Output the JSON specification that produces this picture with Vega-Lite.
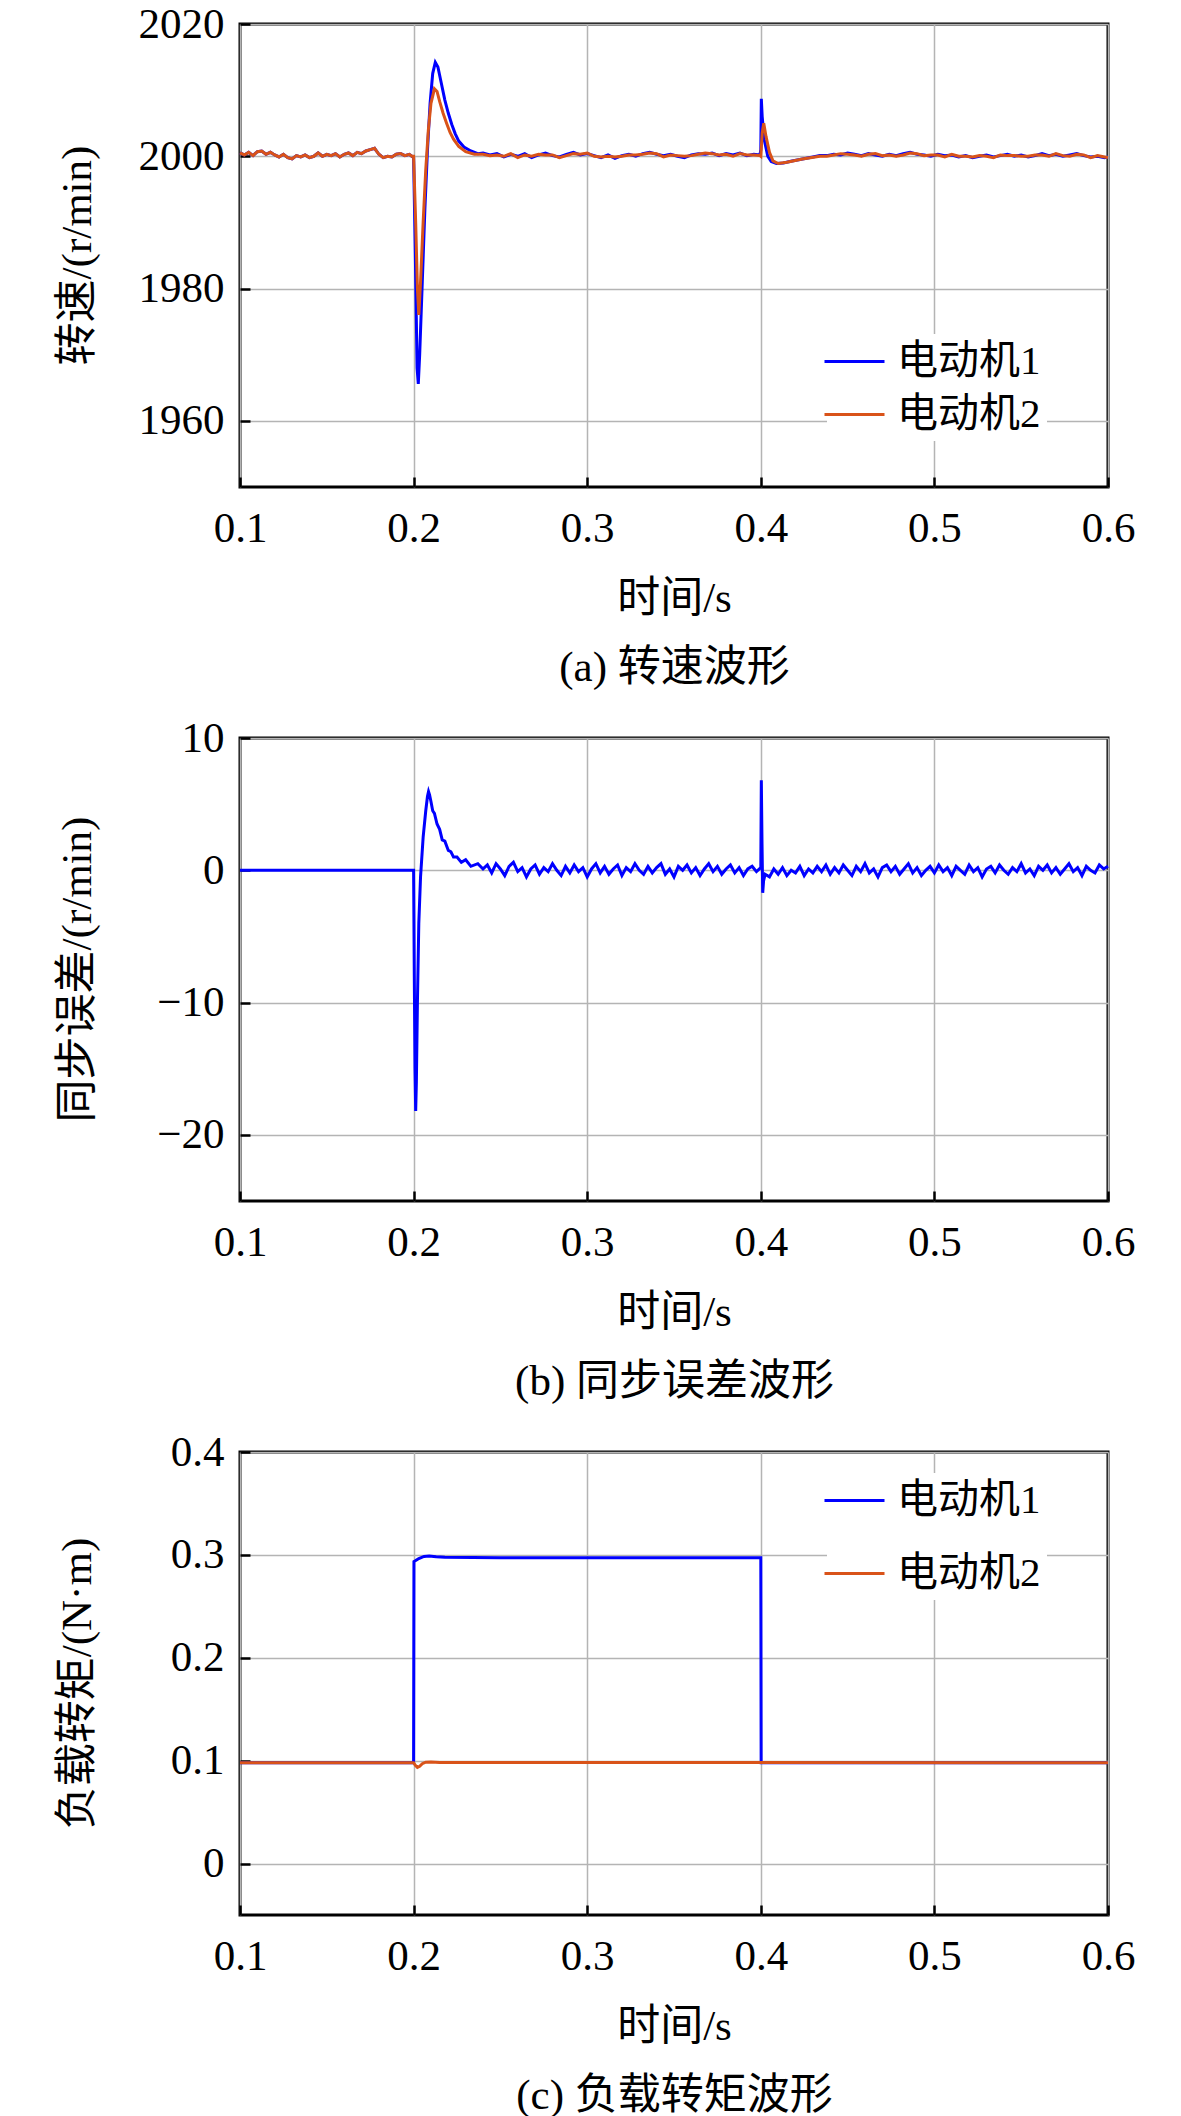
{
  "$schema": "https://vega.github.io/schema/vega-lite/v6.json",
  "padding": {"left": 54, "top": 1, "right": 10, "bottom": 2},
  "spacing": 24,
  "resolve": {"scale": {"color": "independent"}, "legend": {"color": "independent"}},
  "config": {
    "font": "Liberation Serif, Noto Sans CJK SC",
    "view": {"stroke": "black", "strokeWidth": 3},
    "axis": {
      "domain": false,
      "grid": true,
      "gridColor": "#b4b4b4",
      "gridWidth": 1.5,
      "gridOpacity": 1,
      "tickColor": "black",
      "tickWidth": 2.5,
      "tickSize": -10,
      "labelFontSize": 43,
      "labelColor": "black",
      "labelFlush": false,
      "labelOverlap": false,
      "titleFontSize": 43,
      "titleFontWeight": "normal",
      "titleColor": "black"
    },
    "axisX": {"labelPadding": 30, "titlePadding": 27, "titleLineHeight": 69},
    "axisY": {"labelPadding": 26, "titleX": -163, "titleY": 231, "titleAngle": 270, "titleBaseline": "middle", "titleAlign": "center"},
    "legend": {
      "orient": "none",
      "fillColor": "white",
      "padding": 6,
      "symbolType": "M-1.5,0H1.5",
      "symbolSize": 1600,
      "symbolStrokeWidth": 3,
      "labelFontSize": 41,
      "labelColor": "black",
      "labelOffset": 21,
      "labelLimit": 0
    }
  },
  "datasets": {
    "speed": [
      {"t":0.1,"m":"电动机1","v":2000.5},{"t":0.1025,"m":"电动机1","v":2000.2},{"t":0.105,"m":"电动机1","v":2000.6},{"t":0.1075,"m":"电动机1","v":2000.1},
      {"t":0.11,"m":"电动机1","v":2000.7},{"t":0.1125,"m":"电动机1","v":2000.8},{"t":0.115,"m":"电动机1","v":2000.3},{"t":0.1175,"m":"电动机1","v":2000.6},
      {"t":0.12,"m":"电动机1","v":2000.2},{"t":0.1225,"m":"电动机1","v":1999.9},{"t":0.125,"m":"电动机1","v":2000.3},{"t":0.1275,"m":"电动机1","v":1999.8},
      {"t":0.13,"m":"电动机1","v":1999.6},{"t":0.1325,"m":"电动机1","v":2000.1},{"t":0.135,"m":"电动机1","v":1999.9},{"t":0.1375,"m":"电动机1","v":2000.2},
      {"t":0.14,"m":"电动机1","v":1999.8},{"t":0.1425,"m":"电动机1","v":2000.0},{"t":0.145,"m":"电动机1","v":2000.5},{"t":0.1475,"m":"电动机1","v":2000.0},
      {"t":0.15,"m":"电动机1","v":2000.3},{"t":0.1525,"m":"电动机1","v":2000.1},{"t":0.155,"m":"电动机1","v":2000.4},{"t":0.1575,"m":"电动机1","v":1999.9},
      {"t":0.16,"m":"电动机1","v":2000.3},{"t":0.1625,"m":"电动机1","v":2000.5},{"t":0.165,"m":"电动机1","v":2000.1},{"t":0.1675,"m":"电动机1","v":2000.6},
      {"t":0.17,"m":"电动机1","v":2000.4},{"t":0.1725,"m":"电动机1","v":2000.8},{"t":0.175,"m":"电动机1","v":2001.0},{"t":0.1775,"m":"电动机1","v":2001.2},
      {"t":0.18,"m":"电动机1","v":2000.3},{"t":0.1825,"m":"电动机1","v":1999.8},{"t":0.185,"m":"电动机1","v":2000.0},{"t":0.1875,"m":"电动机1","v":1999.9},
      {"t":0.19,"m":"电动机1","v":2000.3},{"t":0.1925,"m":"电动机1","v":2000.4},{"t":0.195,"m":"电动机1","v":2000.1},{"t":0.1975,"m":"电动机1","v":2000.3},
      {"t":0.199,"m":"电动机1","v":2000.0},
      {"t":0.2,"m":"电动机1","v":1999.8},{"t":0.201,"m":"电动机1","v":1985},{"t":0.202,"m":"电动机1","v":1968},{"t":0.2027,"m":"电动机1","v":1965.6},
      {"t":0.2035,"m":"电动机1","v":1970},{"t":0.205,"m":"电动机1","v":1981},{"t":0.2065,"m":"电动机1","v":1992},{"t":0.208,"m":"电动机1","v":2001},
      {"t":0.2095,"m":"电动机1","v":2008},{"t":0.211,"m":"电动机1","v":2012.5},{"t":0.2125,"m":"电动机1","v":2014.2},{"t":0.214,"m":"电动机1","v":2013.5},
      {"t":0.216,"m":"电动机1","v":2011},{"t":0.218,"m":"电动机1","v":2008.5},{"t":0.22,"m":"电动机1","v":2006.5},{"t":0.222,"m":"电动机1","v":2004.8},
      {"t":0.224,"m":"电动机1","v":2003.4},{"t":0.226,"m":"电动机1","v":2002.3},{"t":0.229,"m":"电动机1","v":2001.4},{"t":0.233,"m":"电动机1","v":2000.8},
      {"t":0.237,"m":"电动机1","v":2000.4},
      {"t":0.24,"m":"电动机1","v":2000.5},{"t":0.244,"m":"电动机1","v":2000.2},{"t":0.248,"m":"电动机1","v":2000.4},{"t":0.252,"m":"电动机1","v":1999.9},
      {"t":0.256,"m":"电动机1","v":2000.3},{"t":0.26,"m":"电动机1","v":2000.0},{"t":0.264,"m":"电动机1","v":2000.4},{"t":0.268,"m":"电动机1","v":1999.8},
      {"t":0.272,"m":"电动机1","v":2000.2},{"t":0.276,"m":"电动机1","v":2000.5},{"t":0.28,"m":"电动机1","v":2000.1},{"t":0.284,"m":"电动机1","v":1999.9},
      {"t":0.288,"m":"电动机1","v":2000.3},{"t":0.292,"m":"电动机1","v":2000.6},{"t":0.296,"m":"电动机1","v":2000.2},{"t":0.3,"m":"电动机1","v":2000.4},
      {"t":0.304,"m":"电动机1","v":2000.1},{"t":0.308,"m":"电动机1","v":1999.8},{"t":0.312,"m":"电动机1","v":2000.2},{"t":0.316,"m":"电动机1","v":1999.7},
      {"t":0.32,"m":"电动机1","v":2000.1},{"t":0.324,"m":"电动机1","v":2000.3},{"t":0.328,"m":"电动机1","v":2000.0},{"t":0.332,"m":"电动机1","v":2000.4},
      {"t":0.336,"m":"电动机1","v":2000.6},{"t":0.34,"m":"电动机1","v":2000.3},{"t":0.344,"m":"电动机1","v":2000.1},{"t":0.348,"m":"电动机1","v":2000.3},
      {"t":0.352,"m":"电动机1","v":2000.0},{"t":0.356,"m":"电动机1","v":1999.8},{"t":0.36,"m":"电动机1","v":2000.2},{"t":0.364,"m":"电动机1","v":2000.4},
      {"t":0.368,"m":"电动机1","v":2000.3},{"t":0.372,"m":"电动机1","v":2000.5},{"t":0.376,"m":"电动机1","v":2000.1},{"t":0.38,"m":"电动机1","v":2000.4},
      {"t":0.384,"m":"电动机1","v":2000.2},{"t":0.388,"m":"电动机1","v":2000.5},{"t":0.392,"m":"电动机1","v":2000.1},{"t":0.396,"m":"电动机1","v":2000.3},
      {"t":0.3995,"m":"电动机1","v":2000.2},
      {"t":0.4,"m":"电动机1","v":2001},{"t":0.4003,"m":"电动机1","v":2008.7},{"t":0.4008,"m":"电动机1","v":2006},{"t":0.402,"m":"电动机1","v":2002.5},
      {"t":0.404,"m":"电动机1","v":2000},{"t":0.406,"m":"电动机1","v":1999.2},{"t":0.409,"m":"电动机1","v":1998.9},{"t":0.413,"m":"电动机1","v":1999},
      {"t":0.418,"m":"电动机1","v":1999.3},{"t":0.424,"m":"电动机1","v":1999.6},{"t":0.43,"m":"电动机1","v":1999.9},{"t":0.434,"m":"电动机1","v":2000.1},
      {"t":0.438,"m":"电动机1","v":2000.1},{"t":0.442,"m":"电动机1","v":2000.3},{"t":0.446,"m":"电动机1","v":2000.2},{"t":0.45,"m":"电动机1","v":2000.5},
      {"t":0.454,"m":"电动机1","v":2000.3},{"t":0.458,"m":"电动机1","v":2000.1},{"t":0.462,"m":"电动机1","v":2000.4},{"t":0.466,"m":"电动机1","v":2000.2},
      {"t":0.47,"m":"电动机1","v":2000.0},{"t":0.474,"m":"电动机1","v":2000.3},{"t":0.478,"m":"电动机1","v":2000.1},{"t":0.482,"m":"电动机1","v":2000.4},
      {"t":0.486,"m":"电动机1","v":2000.6},{"t":0.49,"m":"电动机1","v":2000.3},{"t":0.494,"m":"电动机1","v":2000.2},{"t":0.498,"m":"电动机1","v":2000.0},
      {"t":0.502,"m":"电动机1","v":2000.3},{"t":0.506,"m":"电动机1","v":2000.1},{"t":0.51,"m":"电动机1","v":2000.2},{"t":0.514,"m":"电动机1","v":1999.9},
      {"t":0.518,"m":"电动机1","v":2000.1},{"t":0.522,"m":"电动机1","v":1999.8},{"t":0.526,"m":"电动机1","v":2000.0},{"t":0.53,"m":"电动机1","v":2000.2},
      {"t":0.534,"m":"电动机1","v":1999.9},{"t":0.538,"m":"电动机1","v":2000.1},{"t":0.542,"m":"电动机1","v":2000.3},{"t":0.546,"m":"电动机1","v":2000.0},
      {"t":0.55,"m":"电动机1","v":2000.2},{"t":0.554,"m":"电动机1","v":1999.9},{"t":0.558,"m":"电动机1","v":2000.1},{"t":0.562,"m":"电动机1","v":2000.4},
      {"t":0.566,"m":"电动机1","v":2000.1},{"t":0.57,"m":"电动机1","v":2000.3},{"t":0.574,"m":"电动机1","v":2000.0},{"t":0.578,"m":"电动机1","v":2000.2},
      {"t":0.582,"m":"电动机1","v":2000.4},{"t":0.586,"m":"电动机1","v":2000.1},{"t":0.59,"m":"电动机1","v":1999.9},{"t":0.594,"m":"电动机1","v":2000.0},
      {"t":0.598,"m":"电动机1","v":1999.8},{"t":0.6,"m":"电动机1","v":1999.9},

      {"t":0.1,"m":"电动机2","v":2000.5},{"t":0.1025,"m":"电动机2","v":2000.2},{"t":0.105,"m":"电动机2","v":2000.6},{"t":0.1075,"m":"电动机2","v":2000.1},
      {"t":0.11,"m":"电动机2","v":2000.7},{"t":0.1125,"m":"电动机2","v":2000.8},{"t":0.115,"m":"电动机2","v":2000.3},{"t":0.1175,"m":"电动机2","v":2000.6},
      {"t":0.12,"m":"电动机2","v":2000.2},{"t":0.1225,"m":"电动机2","v":1999.9},{"t":0.125,"m":"电动机2","v":2000.3},{"t":0.1275,"m":"电动机2","v":1999.8},
      {"t":0.13,"m":"电动机2","v":1999.6},{"t":0.1325,"m":"电动机2","v":2000.1},{"t":0.135,"m":"电动机2","v":1999.9},{"t":0.1375,"m":"电动机2","v":2000.2},
      {"t":0.14,"m":"电动机2","v":1999.8},{"t":0.1425,"m":"电动机2","v":2000.0},{"t":0.145,"m":"电动机2","v":2000.5},{"t":0.1475,"m":"电动机2","v":2000.0},
      {"t":0.15,"m":"电动机2","v":2000.3},{"t":0.1525,"m":"电动机2","v":2000.1},{"t":0.155,"m":"电动机2","v":2000.4},{"t":0.1575,"m":"电动机2","v":1999.9},
      {"t":0.16,"m":"电动机2","v":2000.3},{"t":0.1625,"m":"电动机2","v":2000.5},{"t":0.165,"m":"电动机2","v":2000.1},{"t":0.1675,"m":"电动机2","v":2000.6},
      {"t":0.17,"m":"电动机2","v":2000.4},{"t":0.1725,"m":"电动机2","v":2000.8},{"t":0.175,"m":"电动机2","v":2001.0},{"t":0.1775,"m":"电动机2","v":2001.2},
      {"t":0.18,"m":"电动机2","v":2000.3},{"t":0.1825,"m":"电动机2","v":1999.8},{"t":0.185,"m":"电动机2","v":2000.0},{"t":0.1875,"m":"电动机2","v":1999.9},
      {"t":0.19,"m":"电动机2","v":2000.3},{"t":0.1925,"m":"电动机2","v":2000.4},{"t":0.195,"m":"电动机2","v":2000.1},{"t":0.1975,"m":"电动机2","v":2000.3},
      {"t":0.199,"m":"电动机2","v":2000.0},
      {"t":0.2,"m":"电动机2","v":2000},{"t":0.2012,"m":"电动机2","v":1990},{"t":0.2022,"m":"电动机2","v":1980},{"t":0.203,"m":"电动机2","v":1976},
      {"t":0.204,"m":"电动机2","v":1981},{"t":0.2055,"m":"电动机2","v":1990},{"t":0.207,"m":"电动机2","v":1998},{"t":0.2085,"m":"电动机2","v":2004},
      {"t":0.21,"m":"电动机2","v":2008},{"t":0.212,"m":"电动机2","v":2010.2},{"t":0.2135,"m":"电动机2","v":2009.8},{"t":0.215,"m":"电动机2","v":2008.3},
      {"t":0.217,"m":"电动机2","v":2006.5},{"t":0.219,"m":"电动机2","v":2005},{"t":0.221,"m":"电动机2","v":2003.6},{"t":0.223,"m":"电动机2","v":2002.6},
      {"t":0.226,"m":"电动机2","v":2001.5},{"t":0.23,"m":"电动机2","v":2000.7},{"t":0.235,"m":"电动机2","v":2000.3},
      {"t":0.24,"m":"电动机2","v":2000.3},{"t":0.244,"m":"电动机2","v":2000.1},{"t":0.248,"m":"电动机2","v":2000.2},{"t":0.252,"m":"电动机2","v":2000.0},
      {"t":0.256,"m":"电动机2","v":2000.4},{"t":0.26,"m":"电动机2","v":1999.8},{"t":0.264,"m":"电动机2","v":2000.2},{"t":0.268,"m":"电动机2","v":2000.0},
      {"t":0.272,"m":"电动机2","v":2000.3},{"t":0.276,"m":"电动机2","v":2000.2},{"t":0.28,"m":"电动机2","v":2000.2},{"t":0.284,"m":"电动机2","v":1999.8},
      {"t":0.288,"m":"电动机2","v":2000.1},{"t":0.292,"m":"电动机2","v":2000.4},{"t":0.296,"m":"电动机2","v":2000.3},{"t":0.3,"m":"电动机2","v":2000.5},
      {"t":0.304,"m":"电动机2","v":2000.0},{"t":0.308,"m":"电动机2","v":1999.9},{"t":0.312,"m":"电动机2","v":2000.0},{"t":0.316,"m":"电动机2","v":1999.9},
      {"t":0.32,"m":"电动机2","v":2000.0},{"t":0.324,"m":"电动机2","v":2000.2},{"t":0.328,"m":"电动机2","v":2000.2},{"t":0.332,"m":"电动机2","v":2000.3},
      {"t":0.336,"m":"电动机2","v":2000.5},{"t":0.34,"m":"电动机2","v":2000.4},{"t":0.344,"m":"电动机2","v":1999.9},{"t":0.348,"m":"电动机2","v":2000.2},
      {"t":0.352,"m":"电动机2","v":2000.1},{"t":0.356,"m":"电动机2","v":2000.0},{"t":0.36,"m":"电动机2","v":2000.1},{"t":0.364,"m":"电动机2","v":2000.3},
      {"t":0.368,"m":"电动机2","v":2000.5},{"t":0.372,"m":"电动机2","v":2000.4},{"t":0.376,"m":"电动机2","v":2000.2},{"t":0.38,"m":"电动机2","v":2000.3},
      {"t":0.384,"m":"电动机2","v":2000.0},{"t":0.388,"m":"电动机2","v":2000.4},{"t":0.392,"m":"电动机2","v":2000.2},{"t":0.396,"m":"电动机2","v":2000.2},
      {"t":0.3995,"m":"电动机2","v":2000.1},
      {"t":0.4,"m":"电动机2","v":2000},{"t":0.4008,"m":"电动机2","v":2003.5},{"t":0.4017,"m":"电动机2","v":2005},{"t":0.403,"m":"电动机2","v":2003},
      {"t":0.405,"m":"电动机2","v":2000.6},{"t":0.407,"m":"电动机2","v":1999.3},{"t":0.41,"m":"电动机2","v":1998.9},{"t":0.415,"m":"电动机2","v":1999.1},
      {"t":0.424,"m":"电动机2","v":1999.6},{"t":0.434,"m":"电动机2","v":2000},
      {"t":0.438,"m":"电动机2","v":2000.0},{"t":0.442,"m":"电动机2","v":2000.2},{"t":0.446,"m":"电动机2","v":2000.4},{"t":0.45,"m":"电动机2","v":2000.3},
      {"t":0.454,"m":"电动机2","v":2000.2},{"t":0.458,"m":"电动机2","v":2000.0},{"t":0.462,"m":"电动机2","v":2000.3},{"t":0.466,"m":"电动机2","v":2000.4},
      {"t":0.47,"m":"电动机2","v":2000.1},{"t":0.474,"m":"电动机2","v":2000.2},{"t":0.478,"m":"电动机2","v":2000.0},{"t":0.482,"m":"电动机2","v":2000.2},
      {"t":0.486,"m":"电动机2","v":2000.5},{"t":0.49,"m":"电动机2","v":2000.4},{"t":0.494,"m":"电动机2","v":2000.1},{"t":0.498,"m":"电动机2","v":2000.2},
      {"t":0.502,"m":"电动机2","v":2000.2},{"t":0.506,"m":"电动机2","v":1999.9},{"t":0.51,"m":"电动机2","v":2000.3},{"t":0.514,"m":"电动机2","v":2000.0},
      {"t":0.518,"m":"电动机2","v":2000.0},{"t":0.522,"m":"电动机2","v":1999.9},{"t":0.526,"m":"电动机2","v":2000.1},{"t":0.53,"m":"电动机2","v":2000.0},
      {"t":0.534,"m":"电动机2","v":1999.8},{"t":0.538,"m":"电动机2","v":2000.2},{"t":0.542,"m":"电动机2","v":2000.1},{"t":0.546,"m":"电动机2","v":2000.1},
      {"t":0.55,"m":"电动机2","v":2000.0},{"t":0.554,"m":"电动机2","v":2000.0},{"t":0.558,"m":"电动机2","v":2000.2},{"t":0.562,"m":"电动机2","v":2000.2},
      {"t":0.566,"m":"电动机2","v":2000.0},{"t":0.57,"m":"电动机2","v":2000.4},{"t":0.574,"m":"电动机2","v":2000.1},{"t":0.578,"m":"电动机2","v":2000.0},
      {"t":0.582,"m":"电动机2","v":2000.3},{"t":0.586,"m":"电动机2","v":2000.2},{"t":0.59,"m":"电动机2","v":1999.8},{"t":0.594,"m":"电动机2","v":2000.1},
      {"t":0.598,"m":"电动机2","v":1999.9},{"t":0.6,"m":"电动机2","v":1999.8}
    ],
    "err": [
      {"t":0.1,"v":0},{"t":0.2,"v":0},{"t":0.2004,"v":-8},{"t":0.2008,"v":-15},{"t":0.2012,"v":-18.2},{"t":0.2016,"v":-16},
      {"t":0.2022,"v":-10},{"t":0.203,"v":-4},{"t":0.204,"v":-0.5},{"t":0.2055,"v":2.5},{"t":0.207,"v":4.5},{"t":0.208,"v":5.6},
      {"t":0.2086,"v":5.95},{"t":0.2092,"v":5.7},{"t":0.21,"v":5.2},{"t":0.211,"v":4.5},{"t":0.212,"v":4.3},{"t":0.2135,"v":3.5},
      {"t":0.215,"v":3.1},{"t":0.2165,"v":2.3},{"t":0.218,"v":2.2},{"t":0.22,"v":1.5},{"t":0.2215,"v":1.4},{"t":0.223,"v":1.0},
      {"t":0.225,"v":1.0},{"t":0.2275,"v":0.6},{"t":0.23,"v":0.8},{"t":0.233,"v":0.3},{"t":0.237,"v":0.5},{"t":0.24,"v":0.1},
      {"t":0.2425,"v":0.4},{"t":0.245,"v":-0.2},{"t":0.2475,"v":0.5},{"t":0.25,"v":0.1},{"t":0.2525,"v":-0.4},{"t":0.255,"v":0.3},
      {"t":0.2575,"v":0.6},{"t":0.26,"v":-0.1},{"t":0.2625,"v":0.2},{"t":0.265,"v":-0.5},{"t":0.2675,"v":0.1},{"t":0.27,"v":0.4},
      {"t":0.2725,"v":-0.3},{"t":0.275,"v":0.2},{"t":0.2775,"v":-0.1},{"t":0.28,"v":0.5},{"t":0.2825,"v":0.0},{"t":0.285,"v":-0.4},
      {"t":0.2875,"v":0.3},{"t":0.29,"v":-0.2},{"t":0.2925,"v":0.4},{"t":0.295,"v":-0.1},{"t":0.2975,"v":0.2},{"t":0.3,"v":-0.5},
      {"t":0.3025,"v":0.1},{"t":0.305,"v":0.5},{"t":0.3075,"v":-0.2},{"t":0.31,"v":0.3},{"t":0.3125,"v":-0.3},{"t":0.315,"v":0.1},
      {"t":0.3175,"v":0.4},{"t":0.32,"v":-0.4},{"t":0.3225,"v":0.2},{"t":0.325,"v":-0.1},{"t":0.3275,"v":0.5},{"t":0.33,"v":0.0},
      {"t":0.3325,"v":-0.3},{"t":0.335,"v":0.3},{"t":0.3375,"v":-0.2},{"t":0.34,"v":0.2},{"t":0.3425,"v":0.5},{"t":0.345,"v":-0.3},
      {"t":0.3475,"v":0.1},{"t":0.35,"v":-0.5},{"t":0.3525,"v":0.3},{"t":0.355,"v":0.0},{"t":0.3575,"v":0.4},{"t":0.36,"v":-0.2},
      {"t":0.3625,"v":0.2},{"t":0.365,"v":-0.4},{"t":0.3675,"v":0.1},{"t":0.37,"v":0.5},{"t":0.3725,"v":-0.1},{"t":0.375,"v":0.3},
      {"t":0.3775,"v":-0.3},{"t":0.38,"v":0.1},{"t":0.3825,"v":0.4},{"t":0.385,"v":-0.2},{"t":0.3875,"v":0.2},{"t":0.39,"v":-0.4},
      {"t":0.3925,"v":0.1},{"t":0.395,"v":0.3},{"t":0.3975,"v":-0.1},{"t":0.4,"v":0.2},{"t":0.4003,"v":6.8},{"t":0.4007,"v":2.0},
      {"t":0.4011,"v":-1.7},{"t":0.4016,"v":-0.8},{"t":0.4025,"v":-0.3},{"t":0.405,"v":-0.5},{"t":0.4075,"v":0.1},{"t":0.41,"v":-0.3},
      {"t":0.4125,"v":0.2},{"t":0.415,"v":-0.4},{"t":0.4175,"v":0.0},{"t":0.42,"v":-0.2},{"t":0.4225,"v":0.3},{"t":0.425,"v":-0.4},
      {"t":0.4275,"v":0.1},{"t":0.43,"v":-0.2},{"t":0.4325,"v":0.3},{"t":0.435,"v":-0.1},{"t":0.4375,"v":0.4},{"t":0.44,"v":-0.3},
      {"t":0.4425,"v":0.2},{"t":0.445,"v":-0.2},{"t":0.4475,"v":0.4},{"t":0.45,"v":0.0},{"t":0.4525,"v":-0.4},{"t":0.455,"v":0.3},
      {"t":0.4575,"v":-0.1},{"t":0.46,"v":0.5},{"t":0.4625,"v":-0.2},{"t":0.465,"v":0.1},{"t":0.4675,"v":-0.5},{"t":0.47,"v":0.2},
      {"t":0.4725,"v":0.4},{"t":0.475,"v":-0.1},{"t":0.4775,"v":0.3},{"t":0.48,"v":-0.3},{"t":0.4825,"v":0.1},{"t":0.485,"v":0.5},
      {"t":0.4875,"v":-0.2},{"t":0.49,"v":0.2},{"t":0.4925,"v":-0.4},{"t":0.495,"v":0.0},{"t":0.4975,"v":0.3},{"t":0.5,"v":-0.2},
      {"t":0.5025,"v":0.4},{"t":0.505,"v":-0.1},{"t":0.5075,"v":0.2},{"t":0.51,"v":-0.4},{"t":0.5125,"v":0.3},{"t":0.515,"v":0.0},
      {"t":0.5175,"v":-0.3},{"t":0.52,"v":0.4},{"t":0.5225,"v":-0.1},{"t":0.525,"v":0.2},{"t":0.5275,"v":-0.5},{"t":0.53,"v":0.1},
      {"t":0.5325,"v":0.3},{"t":0.535,"v":-0.2},{"t":0.5375,"v":0.4},{"t":0.54,"v":0.0},{"t":0.5425,"v":-0.3},{"t":0.545,"v":0.2},
      {"t":0.5475,"v":-0.1},{"t":0.55,"v":0.5},{"t":0.5525,"v":-0.2},{"t":0.555,"v":0.1},{"t":0.5575,"v":-0.4},{"t":0.56,"v":0.3},
      {"t":0.5625,"v":0.0},{"t":0.565,"v":0.4},{"t":0.5675,"v":-0.2},{"t":0.57,"v":0.2},{"t":0.5725,"v":-0.3},{"t":0.575,"v":0.1},
      {"t":0.5775,"v":0.5},{"t":0.58,"v":-0.1},{"t":0.5825,"v":0.2},{"t":0.585,"v":-0.4},{"t":0.5875,"v":0.3},{"t":0.59,"v":0.0},
      {"t":0.5925,"v":-0.2},{"t":0.595,"v":0.4},{"t":0.5975,"v":0.1},{"t":0.6,"v":0.3}
    ],
    "torque": [
      {"t":0.1,"m":"电动机1","v":0.098},{"t":0.2,"m":"电动机1","v":0.098},{"t":0.2002,"m":"电动机1","v":0.2935},{"t":0.2012,"m":"电动机1","v":0.2945},
      {"t":0.203,"m":"电动机1","v":0.2965},{"t":0.206,"m":"电动机1","v":0.2985},{"t":0.209,"m":"电动机1","v":0.299},{"t":0.213,"m":"电动机1","v":0.2982},
      {"t":0.218,"m":"电动机1","v":0.2976},{"t":0.25,"m":"电动机1","v":0.2973},{"t":0.4,"m":"电动机1","v":0.2973},{"t":0.4002,"m":"电动机1","v":0.098},
      {"t":0.6,"m":"电动机1","v":0.098},
      {"t":0.1,"m":"电动机2","v":0.098},{"t":0.2,"m":"电动机2","v":0.098},{"t":0.201,"m":"电动机2","v":0.0955},{"t":0.2022,"m":"电动机2","v":0.0935},
      {"t":0.2035,"m":"电动机2","v":0.0945},{"t":0.205,"m":"电动机2","v":0.097},{"t":0.207,"m":"电动机2","v":0.0985},{"t":0.21,"m":"电动机2","v":0.0988},
      {"t":0.215,"m":"电动机2","v":0.0982},{"t":0.6,"m":"电动机2","v":0.098}
    ]
  },
  "vconcat": [
    {
      "width": 868,
      "height": 463,
      "data": {"name": "speed"},
      "mark": {"type": "line", "strokeWidth": 3},
      "encoding": {
        "x": {"field": "t", "type": "quantitative", "scale": {"domain": [0.1, 0.6], "nice": false},
              "axis": {"values": [0.1, 0.2, 0.3, 0.4, 0.5, 0.6], "format": ".1f", "title": ["时间/s", "(a) 转速波形"]}},
        "y": {"field": "v", "type": "quantitative", "scale": {"domain": [1950, 2020], "nice": false, "zero": false},
              "axis": {"values": [1960, 1980, 2000, 2020], "format": "d", "title": "转速/(r/min)"}},
        "color": {"field": "m", "type": "nominal",
                  "scale": {"domain": ["电动机1", "电动机2"], "range": ["#0000ff", "#d95319"]},
                  "legend": {"title": null, "legendX": 587, "legendY": 310, "rowPadding": 11}}
      }
    },
    {
      "width": 868,
      "height": 463,
      "data": {"name": "err"},
      "mark": {"type": "line", "strokeWidth": 3, "color": "#0000ff"},
      "encoding": {
        "x": {"field": "t", "type": "quantitative", "scale": {"domain": [0.1, 0.6], "nice": false},
              "axis": {"values": [0.1, 0.2, 0.3, 0.4, 0.5, 0.6], "format": ".1f", "title": ["时间/s", "(b) 同步误差波形"]}},
        "y": {"field": "v", "type": "quantitative", "scale": {"domain": [-25, 10], "nice": false, "zero": false},
              "axis": {"values": [-20, -10, 0, 10], "format": "d", "title": "同步误差/(r/min)"}}
      }
    },
    {
      "width": 868,
      "height": 463,
      "data": {"name": "torque"},
      "mark": {"type": "line", "strokeWidth": 3},
      "encoding": {
        "x": {"field": "t", "type": "quantitative", "scale": {"domain": [0.1, 0.6], "nice": false},
              "axis": {"values": [0.1, 0.2, 0.3, 0.4, 0.5, 0.6], "format": ".1f", "title": ["时间/s", "(c) 负载转矩波形"]}},
        "y": {"field": "v", "type": "quantitative", "scale": {"domain": [-0.05, 0.4], "nice": false, "zero": false},
              "axis": {"values": [0, 0.1, 0.2, 0.3, 0.4], "format": "~g", "title": "负载转矩/(N·m)"}},
        "color": {"field": "m", "type": "nominal",
                  "scale": {"domain": ["电动机1", "电动机2"], "range": ["#0000ff", "#d95319"]},
                  "legend": {"title": null, "legendX": 587, "legendY": 21, "rowPadding": 31}}
      }
    }
  ]
}
